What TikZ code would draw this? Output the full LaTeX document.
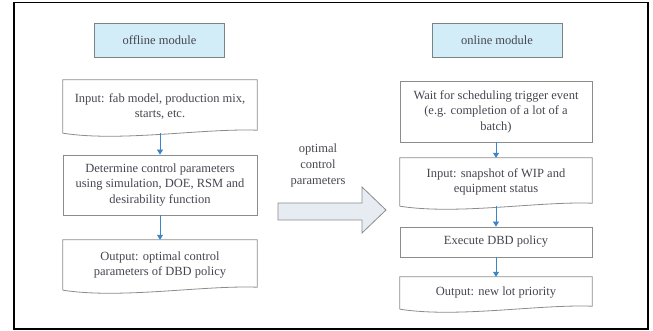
\documentclass[tikz,border=0pt]{standalone}
\usepackage{fontspec}
\setmainfont{Liberation Serif}
\usetikzlibrary{calc,arrows.meta}
\definecolor{txt}{HTML}{45454F}
\definecolor{hdrfill}{HTML}{D2EDF8}
\definecolor{hdrline}{HTML}{7A8388}
\definecolor{boxline}{HTML}{8C8C8C}
\definecolor{arrblue}{HTML}{3A86C8}
\definecolor{bigfill}{HTML}{E6ECF2}
\tikzset{
  hdr/.style={draw=hdrline, fill=hdrfill, line width=0.9pt, inner sep=0pt,
    minimum width=130pt, minimum height=34pt, font=\fontsize{12.5}{15.5}\selectfont, text=txt},
  rbox/.style={draw=boxline, line width=0.8pt, inner sep=0pt, align=center,
    font=\fontsize{12.5}{15.5}\selectfont, text=txt},
  dbox/.style={inner sep=0pt, align=center, font=\fontsize{12.5}{15.5}\selectfont, text=txt},
  flow/.style={draw=arrblue, line width=0.7pt, -{Triangle[length=5pt,width=6pt]}},
  docline/.style={draw=boxline, line width=0.8pt},
  frame/.style={draw=black, line width=1.6pt},
  bigarrow/.style={draw=boxline, fill=bigfill, line width=0.8pt, line join=miter},
  lbl/.style={align=center, font=\fontsize{12.5}{16}\selectfont, text=txt}
}
\newcommand\docpath[1]{%
  \path[docline] (#1.south west) -- (#1.north west) -- (#1.north east) -- ([yshift=3pt]#1.south east)
    .. controls ($(#1.south west)!0.72!(#1.south east)+(0pt,5pt)$) and ($(#1.south west)!0.3!(#1.south east)+(0pt,-9pt)$) .. (#1.south west);}
\begin{document}
\begin{tikzpicture}[x=1pt,y=-1pt]
\useasboundingbox (0,0) rectangle (653,331);
\draw[frame] (14,2.5) rectangle (648,329);

% offline column
\node[hdr] (h1) at (159.5,40) {offline module};
\node[dbox, minimum width=194pt, minimum height=53pt] (inp) at (160,106.5) {Input: fab model, production mix,\\starts, etc.};
\docpath{inp}
\node[rbox, minimum width=194pt, minimum height=60pt] (det) at (160,185) {Determine control parameters\\using simulation, DOE, RSM and\\desirability function};
\node[dbox, minimum width=194pt, minimum height=50pt] (out) at (160,265) {Output: optimal control\\parameters of DBD policy};
\docpath{out}
\draw[flow] (inp.south) -- (det.north);
\draw[flow] (det.south) -- (out.north);

% middle arrow
\coordinate (tip) at (386,210);
\path[bigarrow] (278,203) -- (362,203) -- (362,187) -- (tip) -- (362,233) -- (362,220) -- (278,220) -- cycle;
\node[lbl] (lab) at (318,165.5) {optimal\\control\\parameters};

% online column
\node[hdr] (h2) at (497,40) {online module};
\node[rbox, minimum width=192pt, minimum height=61pt] (wait) at (496,111.5) {Wait for scheduling trigger event\\(e.g. completion of a lot of a\\batch)};
\node[dbox, minimum width=192pt, minimum height=48pt] (snap) at (496,182) {Input: snapshot of WIP and\\equipment status};
\docpath{snap}
\node[rbox, minimum width=192pt, minimum height=30pt] (exec) at (496,242) {Execute DBD policy};
\node[dbox, minimum width=192pt, minimum height=32pt] (outr) at (496,293) {Output: new lot priority};
\docpath{outr}
\draw[flow] (wait.south) -- (snap.north);
\draw[flow] (snap.south) -- (exec.north);
\draw[flow] (exec.south) -- (outr.north);
\end{tikzpicture}
\end{document}
